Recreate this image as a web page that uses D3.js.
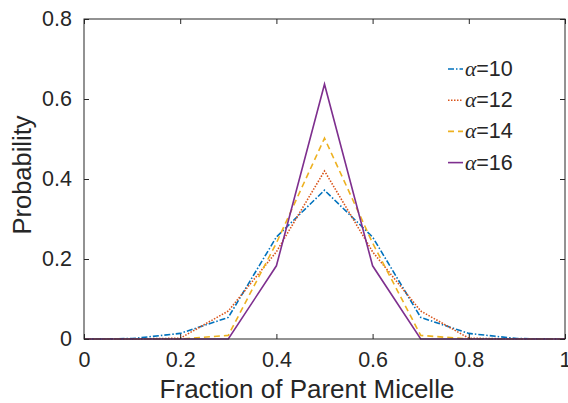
<!DOCTYPE html>
<html>
<head>
<meta charset="utf-8">
<script src="https://cdn.jsdelivr.net/npm/d3@7"></script>
<style>
  body { margin: 0; background: #fff; }
  text { font-family: "Liberation Sans", Arial, sans-serif; fill: #262626; }
</style>
</head>
<body>
<div id="chart"></div>
<script>
var svgWidth = 568;
var svgHeight = 403;

var margin = { top: 19, right: 3, bottom: 64, left: 84 };
var width = svgWidth - margin.left - margin.right;
var height = svgHeight - margin.top - margin.bottom;

// data
var fractions = [0, 0.1, 0.2, 0.3, 0.4, 0.5, 0.6, 0.7, 0.8, 0.9, 1.0];
var alpha10 = [0, 0.001, 0.014, 0.054, 0.255, 0.372, 0.255, 0.054, 0.014, 0.001, 0];
var alpha12 = [0, 0, 0.002, 0.07, 0.218, 0.42, 0.218, 0.07, 0.002, 0, 0];
var alpha14 = [0, 0, 0, 0.009, 0.24, 0.502, 0.24, 0.009, 0, 0, 0];
var alpha16 = [0, 0, 0, 0, 0.183, 0.637, 0.183, 0, 0, 0, 0];
var seriesNames = ["10", "12", "14", "16"];
var xTicks = [0, 0.2, 0.4, 0.6, 0.8, 1];
var yTicks = [0, 0.2, 0.4, 0.6, 0.8];

var seriesList = [
  { name: seriesNames[0], values: alpha10, color: "#0072BD", dash: "6,2,1.5,2" },
  { name: seriesNames[1], values: alpha12, color: "#D95319", dash: "1.5,1.5" },
  { name: seriesNames[2], values: alpha14, color: "#EDB120", dash: "6,4" },
  { name: seriesNames[3], values: alpha16, color: "#7E2F8E", dash: null }
];

var svg = d3.select("#chart")
  .append("svg")
  .attr("width", svgWidth)
  .attr("height", svgHeight);

var chartGroup = svg.append("g")
  .attr("transform", `translate(${margin.left}, ${margin.top})`);

var xScale = d3.scaleLinear().domain([0, 1]).range([0, width]);
var yScale = d3.scaleLinear().domain([0, 0.8]).range([height, 0]);

// lines
var line = d3.line()
  .x((d, i) => xScale(fractions[i]))
  .y(d => yScale(d));

seriesList.forEach(function(s) {
  chartGroup.append("path")
    .datum(s.values)
    .attr("d", line)
    .attr("fill", "none")
    .attr("stroke", s.color)
    .attr("stroke-width", 1.6)
    .attr("stroke-dasharray", s.dash);
});

// axes, ticks inside, box all round
var axisColor = "#262626";
function styleAxis(g) {
  g.select(".domain").remove();
  g.selectAll("line").attr("stroke", axisColor);
  g.selectAll("text")
    .style("font-family", "'Liberation Sans', Arial, sans-serif")
    .style("font-size", "21.5px")
    .attr("fill", axisColor);
}

chartGroup.append("g")
  .attr("transform", `translate(0, ${height})`)
  .call(d3.axisBottom(xScale).tickValues(xTicks).tickFormat(d3.format("~g")).tickSizeInner(-5).tickPadding(13))
  .call(styleAxis);

chartGroup.append("g")
  .call(d3.axisLeft(yScale).tickValues(yTicks).tickFormat(d3.format("~g")).tickSizeInner(-5).tickPadding(12))
  .call(styleAxis);

chartGroup.append("g")
  .call(d3.axisTop(xScale).tickValues(xTicks).tickFormat("").tickSizeInner(-5))
  .call(styleAxis);

chartGroup.append("g")
  .attr("transform", `translate(${width}, 0)`)
  .call(d3.axisRight(yScale).tickValues(yTicks).tickFormat("").tickSizeInner(-5))
  .call(styleAxis);

chartGroup.append("rect")
  .attr("width", width)
  .attr("height", height)
  .attr("fill", "none")
  .attr("stroke", axisColor)
  .attr("stroke-width", 1);

// axis labels
chartGroup.append("text")
  .attr("x", 307 - margin.left)
  .attr("y", height + 59)
  .attr("text-anchor", "middle")
  .style("font-size", "26px")
  .text("Fraction of Parent Micelle");

chartGroup.append("text")
  .attr("transform", "rotate(-90)")
  .attr("x", -height / 2 + 4)
  .attr("y", -margin.left + 31)
  .attr("text-anchor", "middle")
  .style("font-size", "25.5px")
  .text("Probability");

// legend
var legend = chartGroup.append("g")
  .attr("transform", `translate(${448 - margin.left}, ${69 - margin.top})`);

seriesList.forEach(function(s, i) {
  var row = legend.append("g").attr("transform", `translate(0, ${i * 31.2})`);
  row.append("line")
    .attr("x1", 0).attr("x2", 15)
    .attr("y1", 0).attr("y2", 0)
    .attr("stroke", s.color)
    .attr("stroke-width", 1.6)
    .attr("stroke-dasharray", s.dash);
  var t = row.append("text")
    .attr("x", 17)
    .attr("y", 7)
    .style("font-size", "21.5px");
  t.append("tspan")
    .style("font-family", "'Liberation Serif', 'DejaVu Serif', serif")
    .style("font-style", "italic")
    .text("\u03B1");
  t.append("tspan").text("=" + s.name);
});
</script>
</body>
</html>
